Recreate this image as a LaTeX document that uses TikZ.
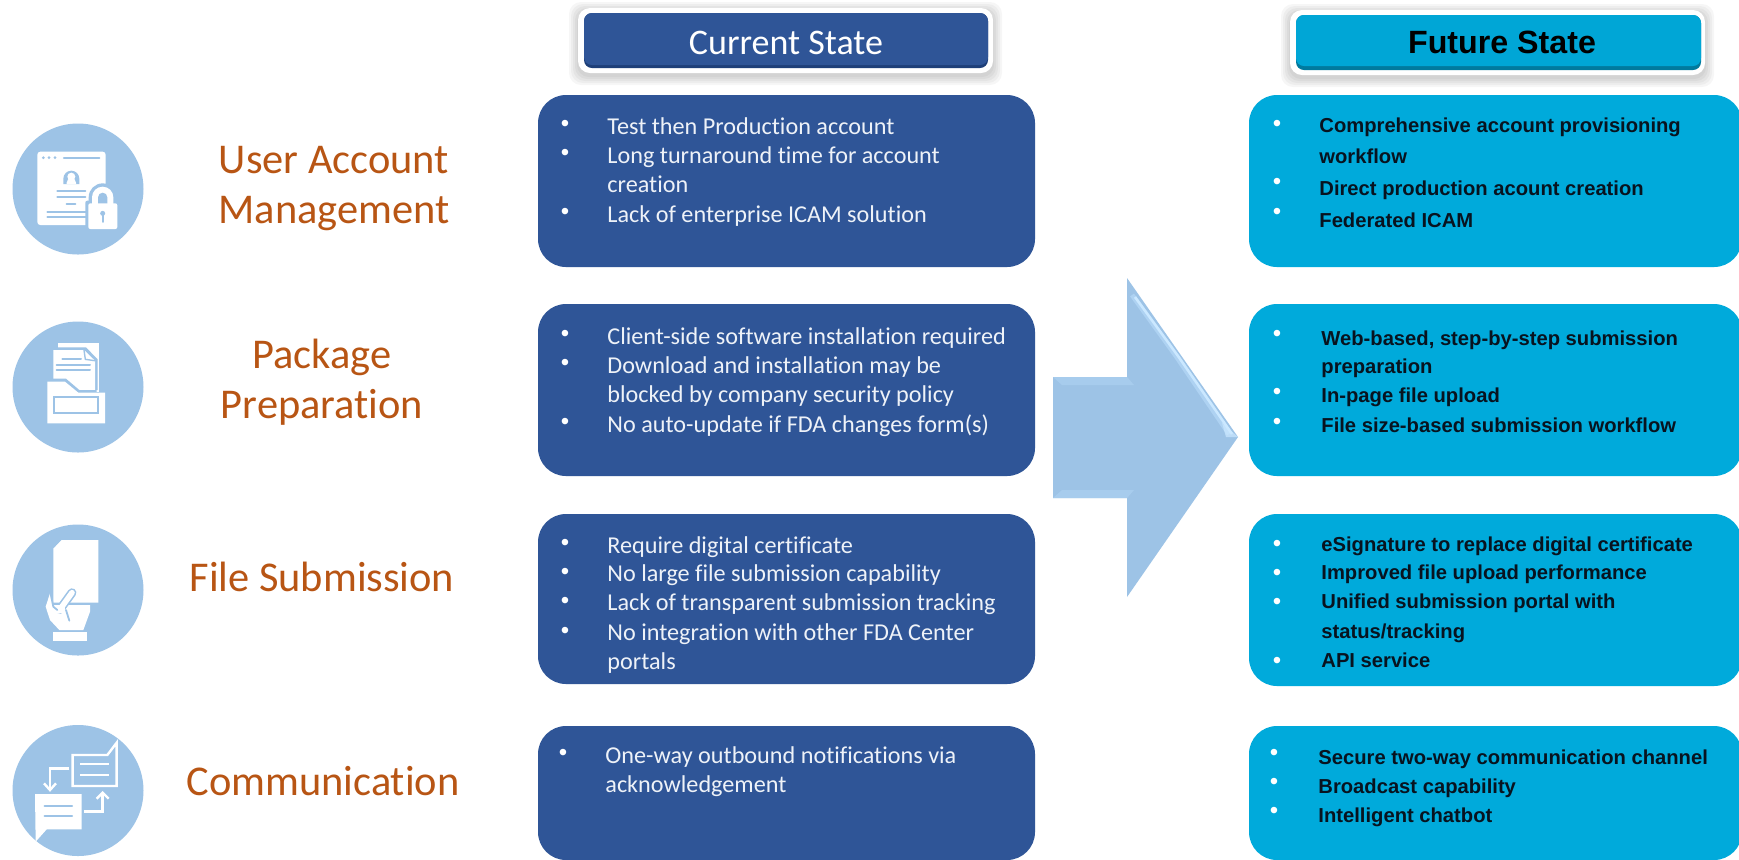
\documentclass[tikz,border=0pt]{standalone}
\usepackage{fontspec}
\setmainfont[Ligatures=NoCommon]{Carlito}
\newfontfamily\arialfont{Liberation Sans}
\definecolor{curblue}{HTML}{2F5597}
\definecolor{curdark}{HTML}{1E3F78}
\definecolor{futblue}{HTML}{00AADB}
\definecolor{futhead}{HTML}{00A6D6}
\definecolor{futdark}{HTML}{007A9E}
\definecolor{iconblue}{HTML}{9DC3E6}
\definecolor{arrowlight}{HTML}{CBE8FF}
\definecolor{arrowsoft}{HTML}{AED2F2}
\definecolor{labelcol}{HTML}{B85514}
\definecolor{futtext}{HTML}{08131F}
\definecolor{curtext}{HTML}{EEF2F8}
\tikzset{
  curbox/.style={fill=curblue,rounded corners=14pt},
  futbox/.style={fill=futblue,rounded corners=14pt},
  sidelabel/.style={anchor=base,inner sep=0pt,yshift=-0.5pt,text=labelcol,font=\fontsize{21.2}{21.2}\selectfont},
  curline/.style={anchor=base west,inner sep=0pt,yshift=-0.5pt,text=curtext,font=\fontsize{12.1}{14}\selectfont},
  futline/.style={anchor=base west,inner sep=0pt,text=futtext,font=\arialfont\bfseries\fontsize{10.1}{12}\selectfont},
  bul/.style={anchor=center,inner sep=0pt,yshift=-1pt,text=white,font=\arialfont\fontsize{12}{12}\selectfont},
  icongap/.style={draw=iconblue,line cap=round,line join=round},
}
\usetikzlibrary{calc}
\newcommand{\softshadow}[4]{%
  \foreach \g in {9,7,5,3,1}{%
    \fill[black,opacity=0.035,rounded corners=6pt]
      ($(#1,#2)+(-\g,-\g+3)$) rectangle ($(#3,#4)+(\g,\g+3)$);
  }%
}
\begin{document}
\begin{tikzpicture}[x=0.5pt,y=-0.5pt]
\useasboundingbox (0,0) rectangle (1739,859);
\fill[white] (0,0) rectangle (1739,859);

% ---------- headers ----------
\softshadow{578}{8}{993}{73}
\fill[white,rounded corners=6pt] (578,8) rectangle (993,73);
\fill[curdark,rounded corners=4pt] (584,13) rectangle (988,68);
\fill[curblue,rounded corners=4pt] (584,13) rectangle (988,65);
\node[inner sep=0pt,anchor=base,text=white,font=\fontsize{18}{18}\selectfont] (curhead) at (786,54) {Current State};

\softshadow{1290}{10}{1705}{75}
\fill[white,rounded corners=6pt] (1290,10) rectangle (1705,75);
\fill[futdark,rounded corners=4pt] (1296,15) rectangle (1701,70);
\fill[futhead,rounded corners=4pt] (1296,15) rectangle (1701,66);
\node[inner sep=0pt,anchor=base,text=black,font=\arialfont\bfseries\fontsize{16.1}{16}\selectfont] (futhead) at (1502,53) {Future State};

% ---------- boxes ----------
\fill[curbox] (538,95) rectangle (1035,267);
\fill[curbox] (538,304) rectangle (1035,476);
\fill[curbox] (538,514) rectangle (1035,684);
\fill[curbox] (538,726) rectangle (1035,860);
\fill[futbox] (1249,95) rectangle (1742,267);
\fill[futbox] (1249,304) rectangle (1742,476);
\fill[futbox] (1249,514) rectangle (1742,686);
\fill[futbox] (1249,726) rectangle (1742,860);

% ---------- big arrow ----------
\fill[iconblue] (1053,377) -- (1127,377) -- (1127,278) -- (1238,437) -- (1127,597) -- (1127,498) -- (1053,498) -- cycle;
\begin{scope}
  \clip (1127,278) -- (1238,437) -- (1127,597) -- cycle;
  \draw[arrowsoft,line width=2.4pt] (1132,295) -- (1176,356) -- (1229,434);
  \draw[arrowlight,line width=1.3pt] (1135,297) -- (1178,356) -- (1232,434);
\end{scope}
\fill[arrowlight,opacity=0.7] (1222,423) -- (1238,437) -- (1226,437) -- cycle;
\fill[arrowsoft,opacity=0.6] (1053,377) -- (1127,377) -- (1134,385) -- (1062,385) -- cycle;
\fill[arrowsoft,opacity=0.6] (1062,490) -- (1134,490) -- (1127,498) -- (1053,498) -- cycle;

% ---------- side labels ----------
\node[sidelabel] (l1a) at (334,172) {User Account};
\node[sidelabel] (l1b) at (334,222) {Management};
\node[sidelabel] (l2a) at (322,367) {Package};
\node[sidelabel] (l2b) at (322,417) {Preparation};
\node[sidelabel] (l3)  at (322,590) {File Submission};
\node[sidelabel] (l4)  at (323,794) {Communication};

% ---------- current state text ----------
\node[bul] (cb11) at (565,124) {•};
\node[bul] (cb12) at (565,153) {•};
\node[bul] (cb13) at (565,212) {•};
\node[curline] (c11) at (607,133) {Test then Production account};
\node[curline] (c12) at (607,162) {Long turnaround time for account};
\node[curline] (c13) at (607,191) {creation};
\node[curline] (c14) at (607,221) {Lack of enterprise ICAM solution};

\node[bul] (cb21) at (565,334) {•};
\node[bul] (cb22) at (565,363) {•};
\node[bul] (cb23) at (565,422) {•};
\node[curline] (c21) at (607,343) {Client-side software installation required};
\node[curline] (c22) at (607,372) {Download and installation may be};
\node[curline] (c23) at (607,401) {blocked by company security policy};
\node[curline] (c24) at (607,431) {No auto-update if FDA changes form(s)};

\node[bul] (cb31) at (565,543) {•};
\node[bul] (cb32) at (565,572) {•};
\node[bul] (cb33) at (565,601) {•};
\node[bul] (cb34) at (565,631) {•};
\node[curline] (c31) at (607,552) {Require digital certificate};
\node[curline] (c32) at (607,580) {No large file submission capability};
\node[curline] (c33) at (607,609) {Lack of transparent submission tracking};
\node[curline] (c34) at (607,639) {No integration with other FDA Center};
\node[curline] (c35) at (607,668) {portals};

\node[bul] (cb41) at (563,753) {•};
\node[curline] (c41) at (605,762) {One-way outbound notifications via};
\node[curline] (c42) at (605,791) {acknowledgement};

% ---------- future state text ----------
\node[bul] (fb11) at (1277,124) {•};
\node[bul] (fb12) at (1277,182) {•};
\node[bul] (fb13) at (1277,212) {•};
\node[futline] (f11) at (1319,132) {Comprehensive account provisioning};
\node[futline] (f12) at (1319,163) {workflow};
\node[futline] (f13) at (1319,195) {Direct production acount creation};
\node[futline] (f14) at (1319,227) {Federated ICAM};

\node[bul] (fb21) at (1277,334) {•};
\node[bul] (fb22) at (1277,392) {•};
\node[bul] (fb23) at (1277,422) {•};
\node[futline] (f21) at (1321,345) {Web-based, step-by-step submission};
\node[futline] (f22) at (1321,373) {preparation};
\node[futline] (f23) at (1321,402) {In-page file upload};
\node[futline] (f24) at (1321,432) {File size-based submission workflow};

\node[bul] (fb31) at (1277,544) {•};
\node[bul] (fb32) at (1277,573) {•};
\node[bul] (fb33) at (1277,602) {•};
\node[bul] (fb34) at (1277,661) {•};
\node[futline] (f31) at (1321,551) {eSignature to replace digital certificate};
\node[futline] (f32) at (1321,579) {Improved file upload performance};
\node[futline] (f33) at (1321,608) {Unified submission portal with};
\node[futline] (f34) at (1321,638) {status/tracking};
\node[futline] (f35) at (1321,667) {API service};

\node[bul] (fb41) at (1274,753) {•};
\node[bul] (fb42) at (1274,782) {•};
\node[bul] (fb43) at (1274,811) {•};
\node[futline] (f41) at (1318,764) {Secure two-way communication channel};
\node[futline] (f42) at (1318,793) {Broadcast capability};
\node[futline] (f43) at (1318,822) {Intelligent chatbot};

% ---------- icons (coordinates in 3x crop units) ----------
\fill[iconblue] (78,189) circle (65.5);
\fill[iconblue] (78,387) circle (65.5);
\fill[iconblue] (78,590) circle (65.5);
\fill[iconblue] (78,790.5) circle (65.5);

% icon 1: account window and lock
\begin{scope}[x=0.16667pt,y=-0.16667pt,shift={(0pt,-45pt)}]
  \fill[white,rounded corners=1.5pt] (112,185) rectangle (317,405);
  \fill[iconblue] (130,203) circle (4.5) (147,203) circle (4.5) (165,203) circle (4.5);
  \draw[icongap,line width=1.1pt] (192,203) -- (298,203);
  \fill[iconblue] (190,282) -- (190,266) arc (180:360:24) -- (238,282) -- cycle;
  \fill[white] (214,260) circle (12);
  \fill[white] (200,282) -- (200,278) arc (180:360:14) -- (228,282) -- cycle;
  \draw[icongap,line width=1.1pt] (172,303) -- (256,303) (172,322) -- (256,322) (200,341) -- (226,341);
  \draw[icongap,line width=0.9pt] (142,365) -- (262,365) (142,381) -- (262,381);
  % lock
  \fill[iconblue,rounded corners=1pt] (256,332) rectangle (362,426);
  \fill[iconblue] (266,345) -- (266,322) arc (180:360:42) -- (350,345) -- cycle;
  \fill[white,rounded corners=1pt] (265,340) rectangle (352,417);
  \fill[white] (276,345) -- (276,322) arc (180:360:32) -- (340,345) -- cycle;
  \fill[iconblue] (294,340) -- (294,322) arc (180:360:14) -- (322,340) -- cycle;
  \fill[iconblue] (308,370) circle (7.5);
  \draw[icongap,line width=0.9pt] (308,372) -- (308,396);
\end{scope}

% icon 2: folder with documents
\begin{scope}[x=0.16667pt,y=-0.16667pt,shift={(0pt,-45pt)}]
  \fill[white] (175,758) rectangle (298,905);
  \fill[iconblue] (152,772) -- (258,772) -- (293,808) -- (293,900) -- (152,900) -- cycle;
  \fill[white] (160,780) -- (252,780) -- (285,812) -- (285,900) -- (160,900) -- cycle;
  \draw[icongap,line width=0.7pt] (252,780) -- (256,808) -- (285,812);
  \draw[icongap,line width=1pt] (187,806) -- (243,806) (170,824) -- (270,824) (170,840) -- (270,840);
  \fill[iconblue] (134,866) -- (198,866) -- (238,900) -- (290,900) -- (290,908) -- (134,908) -- cycle;
  \fill[white] (142,875) -- (195,875) -- (235,908) -- (315,908) -- (315,1000) -- (142,1000) -- cycle;
  \draw[iconblue,line width=1.1pt] (162,922) rectangle (295,968);
\end{scope}

% icon 3: hand holding a page
\begin{scope}[x=0.16667pt,y=-0.16667pt,shift={(0pt,-255pt)}]
  \fill[white] (185,90) -- (295,90) -- (295,278) -- (160,278) -- (160,115) -- cycle;
  \fill[iconblue] (160,88) -- (185,88) -- (160,115) -- cycle;
  \fill[white] (170,110) -- (185,95) -- (185,110) -- cycle;
  \fill[white] (150,250) -- (137,290) -- (150,330) -- (178,360) -- (250,360) -- (270,305) -- (270,285) -- (225,285) -- (160,285) -- cycle;
  \draw[iconblue,line width=4.4pt,line cap=round] (180,298) -- (216,248);
  \draw[white,line width=2.8pt,line cap=round] (180,298) -- (216,248);
  \fill[white] (165,285) -- (195,285) -- (195,310) -- (165,310) -- cycle;
  \draw[icongap,line width=0.9pt] (152,252) -- (160,290) -- (172,300);
  \draw[icongap,line width=0.9pt] (198,300) -- (208,332);
  \fill[white] (160,365) rectangle (260,393);
\end{scope}

% icon 4: exchanged messages
\begin{scope}[x=0.16667pt,y=-0.16667pt,shift={(0pt,-255pt)}]
  \draw[white,line width=1.2pt,line join=miter] (218,735) -- (322,735) -- (350,698) -- (350,828) -- (218,828) -- cycle;
  \draw[white,line width=1.2pt] (240,762) -- (328,762) (240,795) -- (328,795);
  \draw[white,line width=1.2pt] (208,775) -- (150,775) -- (150,835);
  \draw[white,line width=1.2pt] (132,820) -- (150,840) -- (168,820);
  \fill[white] (105,852) -- (245,852) -- (245,958) -- (140,958) -- (107,995) -- cycle;
  \draw[icongap,line width=1.2pt] (134,888) -- (216,888) (134,918) -- (216,918);
  \draw[white,line width=1.2pt] (252,905) -- (308,905) -- (308,852);
  \draw[white,line width=1.2pt] (290,866) -- (308,848) -- (326,866);
\end{scope}
\end{tikzpicture}
\end{document}
